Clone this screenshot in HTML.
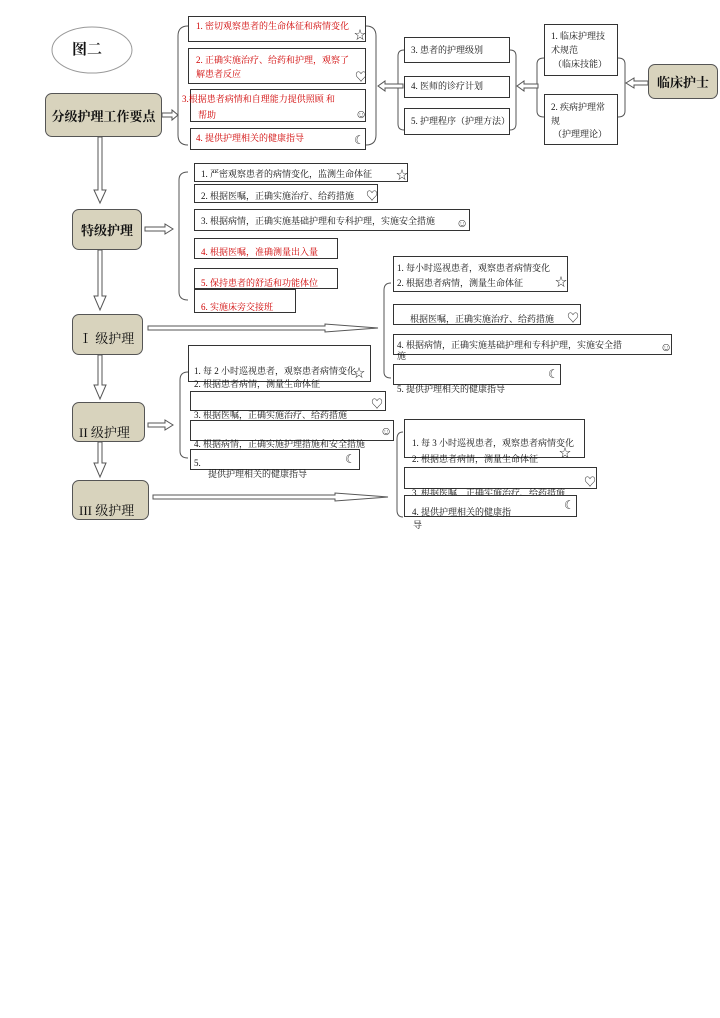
<!DOCTYPE html>
<html><head><meta charset="utf-8"><style>
body{margin:0;background:#fff;}
#c{position:relative;width:720px;height:1018px;overflow:hidden;font-family:"Liberation Serif","Noto Serif CJK SC","Noto Sans CJK SC",serif;font-size:9px;color:#111;}
.b{position:absolute;border:1px solid #333;background:#fff;box-sizing:border-box;}
.t{position:absolute;white-space:nowrap;line-height:1;}
.r{color:#d00000;}
.m{position:absolute;background:#d8d3bd;border:1.5px solid #555;border-radius:7px;box-sizing:border-box;font-size:13px;font-weight:bold;display:flex;align-items:center;justify-content:center;}
.i{position:absolute;font-size:12px;line-height:1;color:#333;}
svg{position:absolute;left:0;top:0;}
</style></head><body><div id="c">
<svg width="720" height="1018">
<g fill="none" stroke="#555" stroke-width="1">
<path d="M188,26 Q178,26 178,36 L178,135 Q178,145 188,145"/>
<path d="M366,26 Q376,26 376,36 L376,135 Q376,145 366,145"/>
<path d="M404,50 Q398,50 398,56 L398,124 Q398,130 404,130"/>
<path d="M510,50 Q516,50 516,56 L516,124 Q516,130 510,130"/>
<path d="M544,58 Q537,58 537,64 L537,111 Q537,117 544,117"/>
<path d="M618,58 Q625,58 625,64 L625,111 Q625,117 618,117"/>
<path d="M188,172 Q179,172 179,180 L179,292 Q179,300 188,300"/>
<path d="M391,283 Q384,283 384,290 L384,372 Q384,378 391,378"/>
<path d="M188,372 Q180,372 180,380 L180,451 Q180,458 188,458"/>
<path d="M403,432 Q397,432 397,439 L397,510 Q397,517 403,517"/>
</g>
<g fill="#fff" stroke="#555" stroke-width="1">
<path d="M98,137 L98,190 L94,190 L100,203 L106,190 L102,190 L102,137 Z"/>
<path d="M98,250 L98,296 L94,296 L100,310 L106,296 L102,296 L102,250 Z"/>
<path d="M98,355 L98,385 L94,385 L100,399 L106,385 L102,385 L102,355 Z"/>
<path d="M98,442 L98,463 L94,463 L100,477 L106,463 L102,463 L102,442 Z"/>
<path d="M162,113 L172,113 L172,110 L178,115 L172,120 L172,117 L162,117 Z"/>
<path d="M145,227 L165,227 L165,224 L173,229 L165,234 L165,231 L145,231 Z"/>
<path d="M148,423 L165,423 L165,420 L173,425 L165,430 L165,427 L148,427 Z"/>
<path d="M148,326 L325,326 L325,324 L378,328 L325,332 L325,330 L148,330 Z"/>
<path d="M153,495 L335,495 L335,493 L388,497 L335,501 L335,499 L153,499 Z"/>
<path d="M403,84 L385,84 L385,81 L378,86 L385,91 L385,88 L403,88 Z"/>
<path d="M538,84 L524,84 L524,81 L517,86 L524,91 L524,88 L538,88 Z"/>
<path d="M648,81 L634,81 L634,78 L626,83 L634,88 L634,85 L648,85 Z"/>
</g>
<ellipse cx="92" cy="50" rx="40" ry="23" fill="#fff" stroke="#999"/>
</svg>
<div class="t" style="left:72px;top:43px;font-size:15px;font-weight:bold">图二</div>
<div class="m" style="left:45px;top:93px;width:117px;height:44px">分级护理工作要点</div>
<div class="m" style="left:648px;top:64px;width:70px;height:35px">临床护士</div>
<div class="m" style="left:72px;top:209px;width:70px;height:41px">特级护理</div>
<div class="m" style="left:72px;top:314px;width:71px;height:41px;justify-content:flex-start;padding-left:6px;padding-top:6px;font-weight:normal">Ⅰ 级护理</div>
<div class="m" style="left:72px;top:402px;width:73px;height:40px;align-items:flex-end;justify-content:flex-start;padding-left:6px;font-weight:normal">II 级护理</div>
<div class="m" style="left:72px;top:480px;width:77px;height:40px;align-items:flex-end;justify-content:flex-start;padding-left:6px;font-weight:normal">III 级护理</div>

<div class="b" style="left:188px;top:16px;width:178px;height:26px"></div>
<div class="t r" style="left:196px;top:22px">1. 密切观察患者的生命体征和病情变化</div><div class="i" style="left:354px;top:29px">☆</div>
<div class="b" style="left:188px;top:48px;width:178px;height:36px"></div>
<div class="t r" style="left:196px;top:56px">2. 正确实施治疗、给药和护理，观察了</div>
<div class="t r" style="left:196px;top:70px">解患者反应</div><div class="i" style="left:355px;top:71px">♡</div>
<div class="b" style="left:190px;top:89px;width:176px;height:33px"></div>
<div class="t r" style="left:182px;top:95px">3.根据患者病情和自理能力提供照顾  和</div>
<div class="t r" style="left:198px;top:111px">帮助</div><div class="i" style="left:355px;top:108px">☺</div>
<div class="b" style="left:190px;top:128px;width:176px;height:22px"></div>
<div class="t r" style="left:196px;top:134px">4. 提供护理相关的健康指导</div><div class="i" style="left:354px;top:134px">☾</div>

<div class="b" style="left:404px;top:37px;width:106px;height:26px"></div><div class="t" style="left:411px;top:46px">3. 患者的护理级别</div>
<div class="b" style="left:404px;top:76px;width:106px;height:22px"></div><div class="t" style="left:411px;top:82px">4. 医师的诊疗计划</div>
<div class="b" style="left:404px;top:108px;width:106px;height:27px"></div><div class="t" style="left:411px;top:117px">5. 护理程序（护理方法）</div>
<div class="b" style="left:544px;top:24px;width:74px;height:52px"></div>
<div class="t" style="left:551px;top:32px">1.  临床护理技</div><div class="t" style="left:551px;top:46px">术规范</div><div class="t" style="left:553px;top:60px">（临床技能）</div>
<div class="b" style="left:544px;top:94px;width:74px;height:51px"></div>
<div class="t" style="left:551px;top:103px">2. 疾病护理常</div><div class="t" style="left:551px;top:117px">规</div><div class="t" style="left:553px;top:130px">（护理理论）</div>

<div class="b" style="left:194px;top:163px;width:214px;height:19px"></div><div class="t" style="left:201px;top:170px">1. 严密观察患者的病情变化，监测生命体征</div><div class="i" style="left:396px;top:169px">☆</div>
<div class="b" style="left:194px;top:184px;width:184px;height:19px"></div><div class="t" style="left:201px;top:192px">2. 根据医嘱，正确实施治疗、给药措施</div><div class="i" style="left:366px;top:190px">♡</div>
<div class="b" style="left:194px;top:209px;width:276px;height:22px"></div><div class="t" style="left:201px;top:217px">3. 根据病情，正确实施基础护理和专科护理，实施安全措施</div><div class="i" style="left:456px;top:217px">☺</div>
<div class="b" style="left:194px;top:238px;width:144px;height:21px"></div><div class="t r" style="left:201px;top:248px">4.    根据医嘱，准确测量出入量</div>
<div class="b" style="left:194px;top:268px;width:144px;height:21px"></div><div class="t r" style="left:201px;top:279px">5. 保持患者的舒适和功能体位</div>
<div class="b" style="left:194px;top:289px;width:102px;height:24px"></div><div class="t r" style="left:201px;top:303px">6. 实施床旁交接班</div>

<div class="b" style="left:393px;top:256px;width:175px;height:36px"></div>
<div class="t" style="left:397px;top:264px">1. 每小时巡视患者，观察患者病情变化</div><div class="t" style="left:397px;top:279px">2. 根据患者病情，测量生命体征</div><div class="i" style="left:555px;top:276px">☆</div>
<div class="b" style="left:393px;top:304px;width:188px;height:21px"></div><div class="t" style="left:410px;top:315px">根据医嘱，正确实施治疗、给药措施</div><div class="i" style="left:567px;top:312px">♡</div>
<div class="b" style="left:393px;top:334px;width:279px;height:21px"></div><div class="t" style="left:397px;top:341px">4.    根据病情，正确实施基础护理和专科护理，实施安全措</div><div class="t" style="left:397px;top:352px">施</div><div class="i" style="left:660px;top:341px">☺</div>
<div class="b" style="left:393px;top:364px;width:168px;height:21px"></div><div class="i" style="left:548px;top:368px">☾</div><div class="t" style="left:397px;top:385px">5.    提供护理相关的健康指导</div>

<div class="b" style="left:188px;top:345px;width:183px;height:37px"></div>
<div class="t" style="left:194px;top:367px">1. 每  2  小时巡视患者，观察患者病情变化</div><div class="t" style="left:194px;top:380px">2. 根据患者病情，测量生命体征</div><div class="i" style="left:353px;top:367px">☆</div>
<div class="b" style="left:190px;top:391px;width:196px;height:20px"></div><div class="i" style="left:371px;top:398px">♡</div><div class="t" style="left:194px;top:411px">3.     根据医嘱，正确实施治疗、给药措施</div>
<div class="b" style="left:190px;top:420px;width:204px;height:21px"></div><div class="i" style="left:380px;top:425px">☺</div><div class="t" style="left:194px;top:440px">4. 根据病情，正确实施护理措施和安全措施</div>
<div class="b" style="left:190px;top:449px;width:170px;height:21px"></div><div class="i" style="left:345px;top:453px">☾</div><div class="t" style="left:194px;top:459px">5.</div><div class="t" style="left:208px;top:470px">提供护理相关的健康指导</div>

<div class="b" style="left:404px;top:419px;width:181px;height:39px"></div>
<div class="t" style="left:412px;top:439px">1. 每  3  小时巡视患者，观察患者病情变化</div><div class="t" style="left:412px;top:455px">2. 根据患者病情，测量生命体征</div><div class="i" style="left:559px;top:447px">☆</div>
<div class="b" style="left:404px;top:467px;width:193px;height:22px"></div><div class="i" style="left:584px;top:476px">♡</div><div class="t" style="left:412px;top:489px">3.     根据医嘱，正确实施治疗、给药措施</div>
<div class="b" style="left:404px;top:495px;width:173px;height:22px"></div><div class="i" style="left:564px;top:499px">☾</div><div class="t" style="left:412px;top:508px">4.     提供护理相关的健康指</div><div class="t" style="left:413px;top:521px">导</div>
</div></body></html>
